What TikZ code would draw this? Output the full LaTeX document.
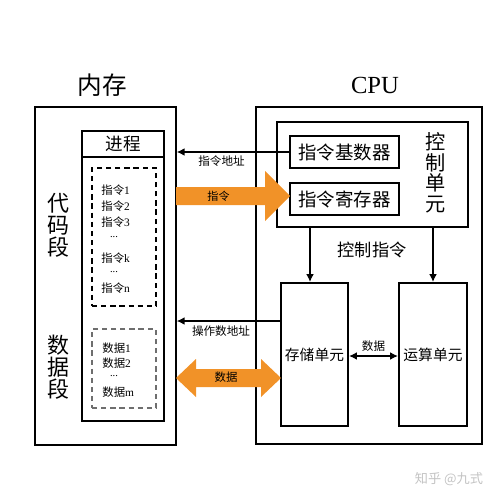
\documentclass[tikz,border=0pt]{standalone}
\usepackage{fontspec}
\setmainfont{Liberation Serif}
\newfontfamily\cjk{Noto Sans CJK SC}
\usetikzlibrary{fit,arrows.meta}
\definecolor{orng}{RGB}{241,146,40}
\definecolor{dgray}{RGB}{110,110,110}
\definecolor{wm}{RGB}{195,195,195}
\newcommand\fs[1]{\fontsize{#1}{#1}\selectfont}
\begin{document}
\begin{tikzpicture}[x=0.02cm,y=-0.02cm,
  box/.style={draw, line width=0.85pt, inner sep=0},
  thickbox/.style={draw, line width=1.2pt, inner sep=0},
  dbox/.style={draw, dash pattern=on 3pt off 2.2pt, line width=0.6pt, inner sep=0},
  conn/.style={line width=0.8pt, -{Latex[length=4.5pt,width=4.5pt]}},
  dconn/.style={line width=0.8pt, {Latex[length=4.5pt,width=4.5pt]}-{Latex[length=4.5pt,width=4.5pt]}},
  lbl/.style={inner sep=0, font=\cjk\fs{6.6pt}},
  item/.style={inner sep=0, anchor=west, font=\fs{6.5pt}},
  dots/.style={inner sep=0, font=\fs{6pt}},
  vtext/.style={inner sep=0, align=center},
]
\useasboundingbox (0,0) rectangle (500,500);

% titles
\node[font=\cjk\fs{14pt}] (tmem) at (102.5,85) {内存};
\node[font=\fs{14pt}] (tcpu) at (375,85) {CPU};

% memory
\node[box, fit={(35,107)(176,445)}] (mem) {};
\node[thickbox, fit={(82,131)(164,421)}] (proc) {};
\draw[line width=1.2pt] (82,157) -- (164,157);
\node[font=\cjk\fs{10pt}] (jc) at (123,144) {进程};
\node[dbox, fit={(92,168)(156,306)}] (code) {};
\node[dbox, draw=dgray, fit={(92,329)(156,408)}] (data) {};

\node[vtext, font=\cjk\fontsize{12.5pt}{12.5pt}\selectfont] (dmd) at (58,225.5) {代\\码\\段};
\node[vtext, font=\cjk\fontsize{12.5pt}{12.5pt}\selectfont] (sjd) at (58,367) {数\\据\\段};

\node[item] (i1) at (101,190) {{\cjk 指令}1};
\node[item] (i2) at (101,206) {{\cjk 指令}2};
\node[item] (i3) at (101,222) {{\cjk 指令}3};
\node[dots] (d1) at (114,237) {...};
\node[item] (ik) at (101,258) {{\cjk 指令}k};
\node[dots] (d2) at (114,272) {...};
\node[item] (in) at (101,288) {{\cjk 指令}n};

\node[item] (s1) at (102,348) {{\cjk 数据}1};
\node[item] (s2) at (102,363) {{\cjk 数据}2};
\node[dots] (d3) at (114,376) {...};
\node[item] (sm) at (102,392) {{\cjk 数据}m};

% CPU
\node[box, fit={(256,107)(482,444)}] (cpu) {};
\node[box, line width=1pt, fit={(277,122)(468,227)}] (ctrl) {};
\node[thickbox, fit={(290,136)(399,168)}] (jsq) {};
\node[font=\cjk\fs{10.5pt}] at (jsq.center) {指令基数器};
\node[thickbox, fit={(290,183)(399,215)}] (jcq) {};
\node[font=\cjk\fs{10.5pt}] at (jcq.center) {指令寄存器};
\node[vtext, font=\cjk\fontsize{11.5pt}{11.7pt}\selectfont] (kzdy) at (436,173) {控\\制\\单\\元};

\node[thickbox, fit={(281,283)(348,426)}] (stor) {};
\node[font=\cjk\fs{8.4pt}] at (stor.center) {存储单元};
\node[thickbox, fit={(399,283)(467,426)}] (alu) {};
\node[font=\cjk\fs{8.4pt}] at (alu.center) {运算单元};

% control arrows
\draw[conn] (ctrl.south -| 310,0) -- (stor.north -| 310,0);
\draw[conn] (ctrl.south -| alu.north) -- (alu.north);
\node[font=\cjk\fs{9.8pt}] (kzzl) at (372,250) {控制指令};

% storage <-> alu
\draw[dconn] (stor.east |- 0,356) -- (alu.west |- 0,356);
\node[lbl] (sj2) at (373.5,346) {数据};

% address arrows
\draw[conn] (jsq.west) -- (jsq.west -| mem.east);
\node[lbl] (zldz) at (221.5,161) {指令地址};
\draw[conn] (stor.west |- 0,321) -- (mem.east |- 0,321);
\node[lbl] (czsdz) at (221,331) {操作数地址};

% orange arrows
\fill[orng] (176,187) -- (265,187) -- (265,171) -- (290,196) -- (265,221) -- (265,205) -- (176,205) -- cycle;
\node[lbl, font=\cjk\fs{6.3pt}] (zl) at (218.5,196) {指令};
\fill[orng] (176,378) -- (196,359) -- (196,369) -- (261,369) -- (261,359) -- (281,378) -- (261,397) -- (261,387) -- (196,387) -- (196,397) -- cycle;
\node[lbl, font=\cjk\fs{6.5pt}] (sj1) at (226,377) {数据};

% watermark
\node[text=wm, font=\cjk\fs{7.5pt}] (wmk) at (449,479) {知乎 @九式};
\end{tikzpicture}
\end{document}
